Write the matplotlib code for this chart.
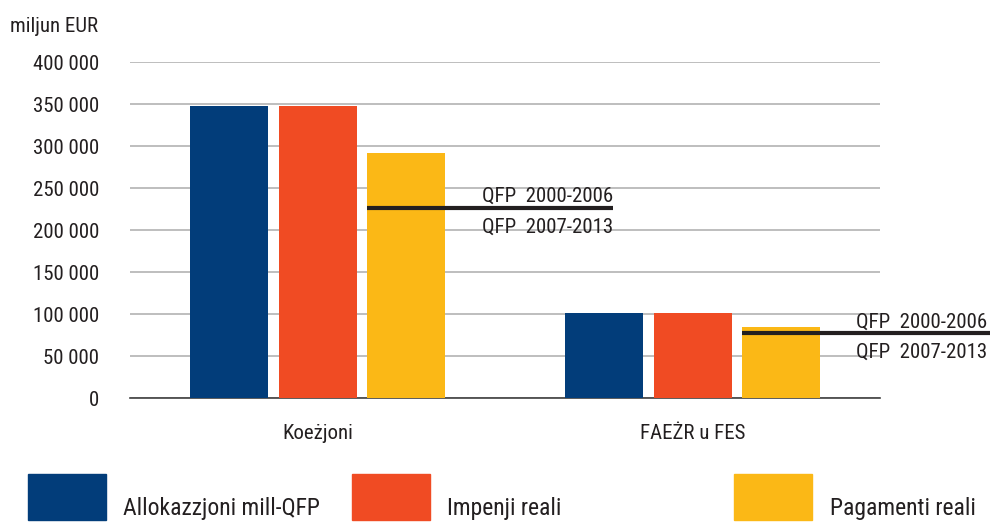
import matplotlib
matplotlib.use("Agg")
import matplotlib.pyplot as plt
from matplotlib.patches import Rectangle
import numpy as np

plt.rcParams['font.family'] = ['Roboto Condensed', 'Open Sans', 'DejaVu Sans']
plt.rcParams['font.stretch'] = 'condensed'
plt.rcParams['font.weight'] = 400

categories = ["Koeżjoni", "FAEŻR u FES"]
series = ["Allokazzjoni mill-QFP", "Impenji reali", "Pagamenti reali"]
values = {
    "Allokazzjoni mill-QFP": [348000, 101000],
    "Impenji reali": [348000, 101000],
    "Pagamenti reali": [292000, 84000],
}
colors = ["#023d7a", "#f04b23", "#fbb816"]
divider = [226000, 77000]
divider_labels = ["QFP  2000-2006", "QFP  2007-2013"]
yticks = [0, 50000, 100000, 150000, 200000, 250000, 300000, 350000, 400000]
ytick_labels = ["0", "50 000", "100 000", "150 000", "200 000", "250 000",
                "300 000", "350 000", "400 000"]

TXT = "#231f20"
FS = 15
fig = plt.figure(figsize=(9.9, 5.22), dpi=100)
ax = fig.add_axes([130/990, 1-398/522, 750/990, 336/522])

x = np.arange(len(categories))
w = 0.208
step = 0.235
for i, s in enumerate(series):
    ax.bar(x + (i-1)*step, values[s], width=w, color=colors[i], zorder=3)

ax.set_xlim(-0.5, 1.5)
ax.set_ylim(0, 400000)
ax.set_yticks(yticks)
ax.set_yticklabels(ytick_labels, fontsize=FS, color=TXT)
ax.set_xticks(x)
ax.set_xticklabels(categories, fontsize=FS, color=TXT)
ax.tick_params(axis='x', length=0, pad=19)
ax.tick_params(axis='y', length=0, pad=22)
ax.grid(axis='y', color="#b3b3b3", linewidth=1.2, zorder=0)
for sp in ["top", "right", "left"]:
    ax.spines[sp].set_visible(False)
ax.spines["bottom"].set_color("#404040")
ax.spines["bottom"].set_linewidth(1.2)

# divider lines between the two QFP periods
px = 400000 / 336
starts = [x[i] + step - w/2 for i in range(len(categories))]
ends = [x[0] + (613-317.5)/375, x[1] + (990-692.5)/375]
label_right = [x[0] + (613-317.5)/375, x[1] + (987-692.5)/375]
for i in range(len(categories)):
    ax.plot([starts[i], ends[i]], [divider[i], divider[i]], color=TXT,
            linewidth=3, zorder=4, clip_on=False, solid_capstyle='butt')
    ax.text(label_right[i], divider[i] + 6*px, divider_labels[0], ha='right',
            va='baseline', fontsize=FS, color=TXT, zorder=5)
    ax.text(label_right[i], divider[i] - 24.5*px, divider_labels[1], ha='right',
            va='baseline', fontsize=FS, color=TXT, zorder=5)

fig.text(10/990, 1-32/522, "miljun EUR", fontsize=FS, color=TXT,
         ha='left', va='baseline')

# legend
box_x = [28, 352, 734]
text_x = [123, 447, 830]
for i, s in enumerate(series):
    fig.add_artist(Rectangle((box_x[i]/990, 1-520/522), 78/990, 46/522,
                             transform=fig.transFigure, color=colors[i]))
    fig.text(text_x[i]/990, 1-515/522, s, fontsize=17, color=TXT,
             ha='left', va='baseline')

fig.savefig("out.png", dpi=100)
